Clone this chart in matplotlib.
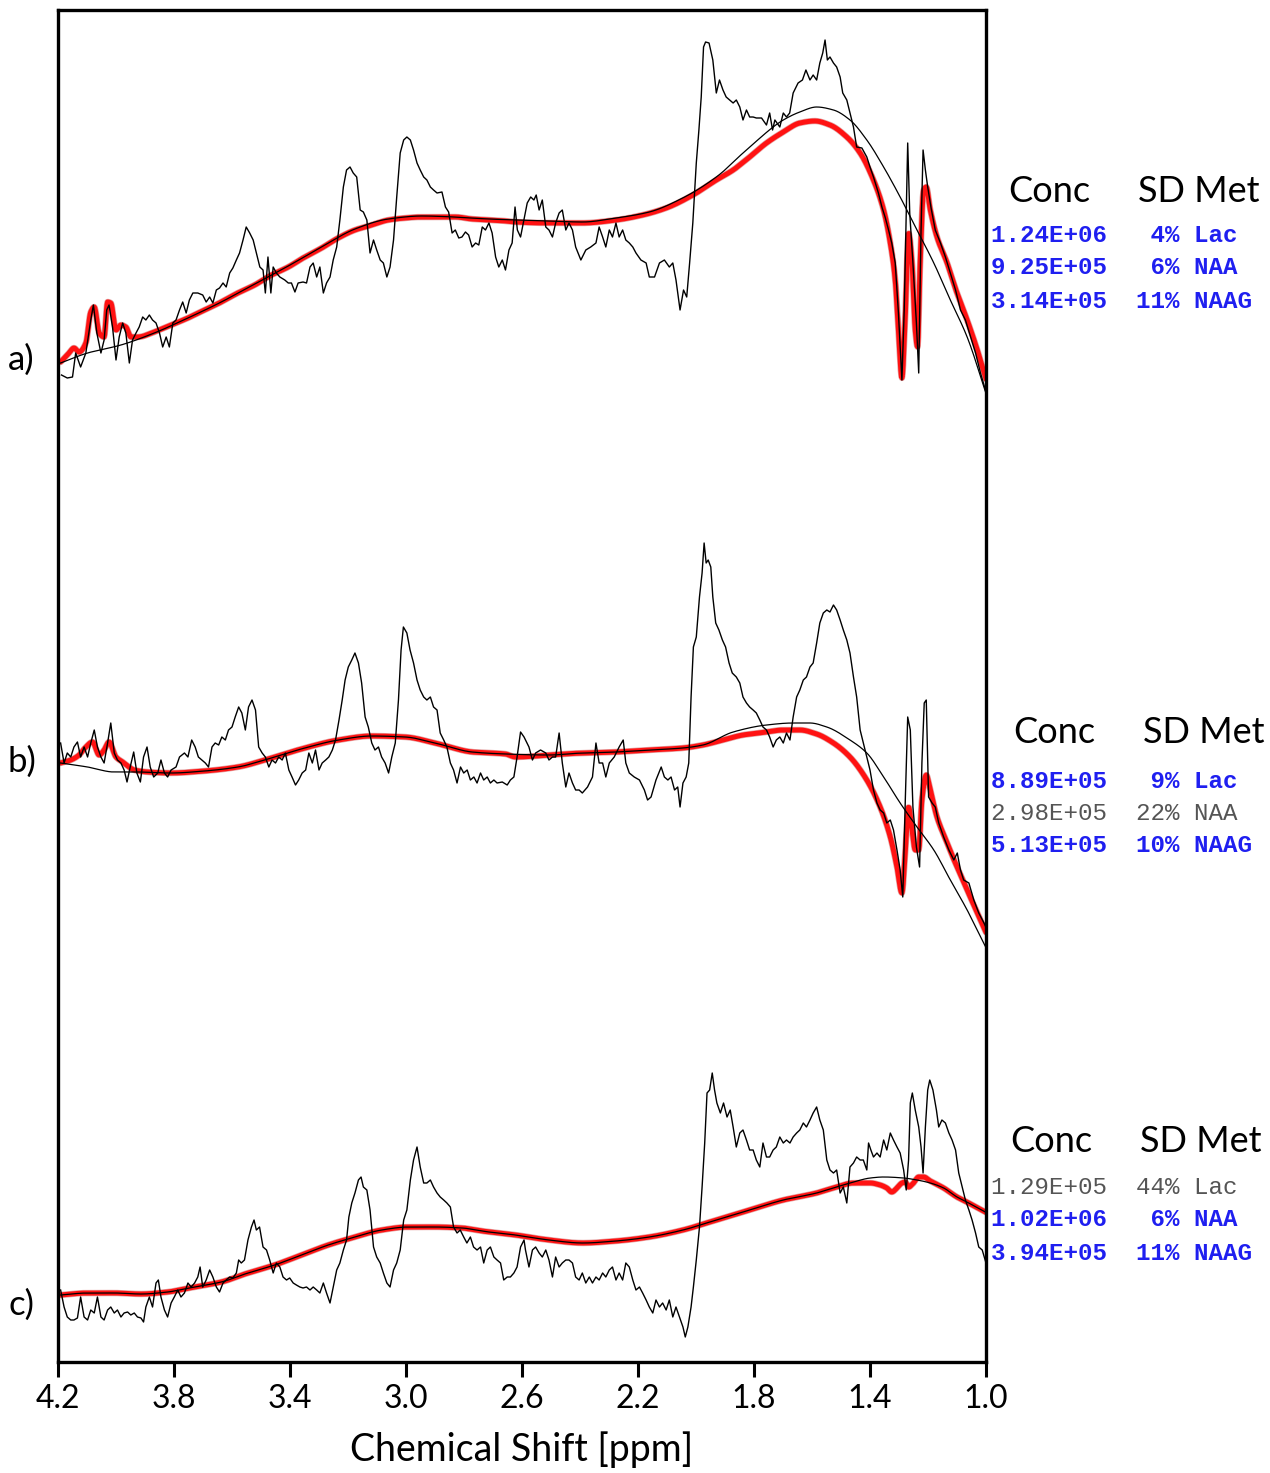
import numpy as np
import matplotlib
matplotlib.use("Agg")
import matplotlib.pyplot as plt

# ---------------------------------------------------------------------------
# Spectrum a)  -- measured signal, LCModel-style fit and fitted baseline
# ---------------------------------------------------------------------------
a_data_ppm = [4.188, 4.168, 4.150, 4.139, 4.122, 4.104, 4.087, 4.078, 4.066, 4.052, 4.041, 4.032, 4.024,
              4.012, 4.000, 3.989, 3.977, 3.966, 3.954, 3.943, 3.931, 3.920, 3.908, 3.897, 3.885, 3.874,
              3.862, 3.850, 3.839, 3.827, 3.816, 3.804, 3.793, 3.781, 3.770, 3.758, 3.747, 3.735, 3.718,
              3.701, 3.689, 3.677, 3.666, 3.654, 3.643, 3.631, 3.620, 3.608, 3.597, 3.585, 3.574, 3.562,
              3.551, 3.539, 3.527, 3.516, 3.504, 3.493, 3.485, 3.476, 3.466, 3.458, 3.447, 3.435, 3.418,
              3.406, 3.395, 3.383, 3.372, 3.355, 3.343, 3.331, 3.320, 3.308, 3.297, 3.285, 3.274, 3.262,
              3.251, 3.239, 3.228, 3.216, 3.205, 3.193, 3.182, 3.170, 3.158, 3.147, 3.135, 3.124, 3.112,
              3.101, 3.089, 3.078, 3.066, 3.055, 3.043, 3.032, 3.020, 3.008, 2.997, 2.985, 2.974, 2.962,
              2.951, 2.939, 2.928, 2.916, 2.905, 2.893, 2.876, 2.864, 2.853, 2.841, 2.830, 2.818, 2.807,
              2.795, 2.784, 2.772, 2.760, 2.749, 2.737, 2.726, 2.714, 2.703, 2.691, 2.680, 2.668, 2.657,
              2.645, 2.634, 2.624, 2.616, 2.605,
              2.582, 2.570, 2.559, 2.551, 2.541, 2.530, 2.518, 2.507, 2.495, 2.484, 2.472, 2.461, 2.449,
              2.438, 2.426, 2.415, 2.397, 2.380, 2.363, 2.345, 2.334, 2.322, 2.311, 2.299, 2.288, 2.276,
              2.265, 2.253, 2.242, 2.230, 2.218, 2.207, 2.190, 2.172, 2.161, 2.143, 2.126, 2.109, 2.092,
              2.080, 2.069, 2.055, 2.043, 2.032, 2.022, 2.011, 1.999, 1.990, 1.982, 1.974, 1.967, 1.955,
              1.942, 1.930, 1.919, 1.907, 1.896, 1.884, 1.872, 1.861, 1.849, 1.838, 1.826, 1.815, 1.803,
              1.792, 1.774, 1.757, 1.746, 1.736, 1.728, 1.711, 1.699, 1.688, 1.677, 1.665, 1.648, 1.633,
              1.621, 1.607, 1.596, 1.584, 1.573, 1.563, 1.555, 1.547, 1.538, 1.526, 1.515, 1.503, 1.494,
              1.480, 1.469, 1.457, 1.446, 1.428, 1.411, 1.400, 1.388, 1.371, 1.359, 1.348, 1.336, 1.325,
              1.313, 1.302, 1.290, 1.282, 1.275, 1.270, 1.263, 1.252, 1.240, 1.232, 1.224, 1.217, 1.209,
              1.201, 1.190, 1.175, 1.157, 1.140, 1.123, 1.105, 1.088, 1.071, 1.053, 1.036, 1.019, 1.002]
a_data_int = [45, 42, 43, 67, 53, 67, 100, 115, 87, 67, 80, 110, 115,
              93, 60, 83, 97, 87, 57, 80, 87, 93, 103, 100, 105, 100,
              97, 87, 73, 83, 73, 97, 100, 110, 118, 107, 120, 127, 127,
              125, 118, 123, 117, 130, 132, 137, 133, 147, 152, 160, 167, 180,
              193, 187, 180, 167, 153, 150, 127, 163, 127, 153, 147, 143, 140,
              137, 137, 128, 137, 138, 137, 153, 157, 143, 153, 127, 137, 143,
              160, 173, 200, 233, 250, 253, 247, 243, 210, 208, 200, 167, 180,
              170, 160, 157, 143, 153, 180, 223, 267, 280, 283, 280, 270, 257,
              250, 243, 240, 233, 230, 227, 228, 213, 208, 187, 190, 182, 183,
              188, 185, 173, 177, 175, 193, 190, 197, 187, 163, 153, 160, 150,
              170, 177, 213, 190, 183,
              217, 223, 220, 225, 210, 220, 193, 190, 183, 197, 207, 210, 190,
              197, 190, 173, 160, 170, 173, 177, 193, 183, 173, 190, 183, 197,
              183, 190, 180, 177, 173, 167, 160, 157, 143, 143, 157, 160, 153,
              157, 140, 110, 130, 123, 157, 197, 257, 290, 323, 373, 378, 377,
              360, 327, 340, 330, 323, 320, 317, 320, 313, 300, 310, 303, 303,
              302, 302, 295, 307, 290, 300, 293, 307, 303, 307, 327, 337, 340,
              350, 340, 345, 340, 357, 367, 380, 360, 363, 357, 353, 343, 327,
              320, 307, 293, 273, 272, 263, 253, 243, 227, 213, 203, 190, 177,
              157, 107, 40, 110, 207, 277, 207, 157, 97, 47, 190, 270, 250,
              233, 213, 190, 177, 163, 147, 130, 110, 100, 83, 67, 47, 30]

a_fit_ppm = [4.191, 4.162, 4.145, 4.127, 4.104, 4.087, 4.075, 4.058, 4.041, 4.029, 4.018, 4.000, 3.983,
             3.966, 3.948, 3.925, 3.868, 3.810, 3.752, 3.695, 3.637, 3.580, 3.522, 3.464, 3.406, 3.349,
             3.291, 3.234, 3.176, 3.118, 3.061, 3.003, 2.945, 2.888, 2.830, 2.772, 2.715, 2.657,
             2.622, 2.507, 2.391, 2.276, 2.184, 2.103, 2.011, 1.930, 1.872, 1.815, 1.757, 1.699, 1.642,
             1.590, 1.538, 1.480, 1.434, 1.388, 1.353, 1.330, 1.313, 1.302, 1.290, 1.278, 1.267, 1.255,
             1.244, 1.236, 1.227, 1.215, 1.206, 1.192, 1.169, 1.134, 1.100, 1.065, 1.030, 0.996]
a_fit_int = [58, 67, 72, 68, 77, 108, 113, 87, 83, 118, 117, 90, 95,
             93, 83, 83, 88, 95, 102, 110, 118, 127, 135, 145, 153, 163,
             172, 182, 190, 195, 200, 202, 203, 203, 203, 201, 200, 199,
             198, 197, 197, 200, 205, 212, 225, 240, 250, 263, 277, 288, 297,
             299, 295, 283, 267, 240, 210, 177, 140, 90, 42, 107, 187, 157,
             90, 73, 157, 230, 233, 210, 183, 157, 127, 100, 70, 37]

a_base_ppm = [4.191, 4.098, 3.983, 3.868, 3.752, 3.637, 3.522, 3.406, 3.291, 3.176, 3.061, 2.945, 2.830,
              2.715, 2.507, 2.391, 2.276, 2.161, 2.046, 1.930, 1.815, 1.699, 1.642, 1.584, 1.526, 1.469,
              1.411, 1.353, 1.296, 1.238, 1.180, 1.123, 1.065, 0.996]
a_base_int = [57, 67, 75, 87, 102, 118, 136, 154, 173, 191, 201, 204, 203,
              201, 199, 198, 202, 208, 222, 243, 273, 300, 308, 313, 310, 300,
              280, 253, 223, 190, 157, 120, 83, 23]

# ---------------------------------------------------------------------------
# Spectrum b)
# ---------------------------------------------------------------------------
b_data_ppm = [4.191, 4.179, 4.168, 4.156, 4.145, 4.133, 4.122, 4.110, 4.098, 4.087, 4.075, 4.064, 4.052,
              4.041, 4.029, 4.018, 4.006, 3.995, 3.983, 3.972, 3.962, 3.951, 3.939, 3.928, 3.916, 3.905,
              3.893, 3.882, 3.870, 3.856, 3.845, 3.833, 3.822, 3.810, 3.793, 3.781, 3.764, 3.752, 3.739,
              3.727, 3.716, 3.704, 3.692, 3.681, 3.669, 3.658, 3.646, 3.635, 3.623, 3.612, 3.600, 3.589,
              3.577, 3.566, 3.554, 3.543, 3.531, 3.519, 3.508, 3.496, 3.485, 3.473, 3.462, 3.450, 3.439,
              3.427, 3.416, 3.404, 3.393, 3.381, 3.370, 3.358, 3.346, 3.335, 3.323, 3.312, 3.300, 3.289,
              3.277, 3.266, 3.254, 3.243, 3.231, 3.220, 3.210, 3.199, 3.187, 3.176, 3.164, 3.153, 3.141,
              3.130, 3.118, 3.107, 3.095, 3.084, 3.072, 3.060, 3.049, 3.037, 3.026, 3.017, 3.009, 2.997,
              2.986, 2.974, 2.962, 2.951, 2.939, 2.928, 2.916, 2.905, 2.893, 2.882, 2.870, 2.859, 2.847,
              2.836, 2.824, 2.812, 2.801, 2.789, 2.778, 2.766, 2.755, 2.743, 2.732, 2.720, 2.709, 2.697,
              2.686, 2.668, 2.651, 2.640, 2.628, 2.617, 2.605, 2.593,
              2.576, 2.564, 2.553, 2.536, 2.518, 2.507, 2.495, 2.484, 2.472, 2.461, 2.449, 2.438, 2.426,
              2.415, 2.403, 2.392, 2.374, 2.357, 2.345, 2.334, 2.322, 2.311, 2.299, 2.282, 2.265, 2.251,
              2.242, 2.230, 2.213, 2.195, 2.178, 2.167, 2.155, 2.138, 2.120, 2.109, 2.097, 2.086, 2.074,
              2.063, 2.055, 2.045, 2.034, 2.025, 2.017, 2.009, 1.999, 1.988, 1.979, 1.972, 1.965, 1.958,
              1.949, 1.942, 1.932, 1.921, 1.909, 1.898, 1.886, 1.875, 1.861, 1.849, 1.838, 1.826, 1.815,
              1.803, 1.792, 1.780, 1.769, 1.757, 1.746, 1.734, 1.723, 1.711, 1.699, 1.688, 1.676, 1.665,
              1.653, 1.642, 1.630, 1.619, 1.607, 1.596, 1.584, 1.573, 1.561, 1.549, 1.538, 1.526, 1.515,
              1.503, 1.492, 1.480, 1.469, 1.457, 1.446, 1.434, 1.423, 1.411, 1.400, 1.388, 1.376, 1.365,
              1.353, 1.342, 1.330, 1.319, 1.307, 1.296, 1.287, 1.278, 1.270, 1.261, 1.252, 1.240, 1.229,
              1.221, 1.213, 1.206, 1.198, 1.186, 1.175, 1.163, 1.146, 1.128, 1.111, 1.099, 1.088, 1.077,
              1.059, 1.042, 1.025, 1.007, 0.996]
b_data_int = [217, 197, 207, 203, 213, 218, 203, 213, 203, 217, 230, 213, 203,
              197, 217, 237, 207, 200, 197, 190, 178, 193, 208, 187, 178, 203,
              213, 193, 183, 187, 200, 187, 183, 190, 193, 203, 207, 203, 220,
              213, 203, 200, 197, 193, 213, 217, 215, 223, 220, 230, 233, 243,
              253, 247, 230, 253, 260, 250, 213, 207, 203, 193, 200, 197, 203,
              200, 207, 190, 183, 175, 180, 187, 190, 207, 197, 210, 190, 197,
              200, 203, 210, 220, 240, 260, 280, 293, 300, 307, 297, 277, 243,
              233, 217, 210, 213, 203, 197, 187, 203, 217, 260, 310, 333, 327,
              310, 297, 280, 270, 263, 260, 263, 253, 250, 227, 220, 213, 197,
              190, 177, 193, 187, 190, 180, 183, 177, 187, 180, 183, 177, 180,
              177, 178, 175, 180, 183, 203, 228, 223,
              213, 200, 207, 210, 207, 200, 203, 203, 227, 197, 173, 187, 177,
              170, 170, 167, 173, 183, 217, 197, 197, 183, 197, 203, 213, 220,
              197, 187, 183, 180, 170, 160, 163, 180, 193, 183, 180, 183, 170,
              173, 153, 177, 183, 197, 263, 313, 323, 363, 387, 417, 397, 400,
              393, 363, 337, 330, 320, 313, 297, 287, 283, 277, 263, 257, 253,
              250, 247, 240, 233, 230, 223, 213, 220, 223, 217, 227, 220, 243,
              263, 270, 280, 283, 293, 297, 317, 337, 347, 350, 348, 355, 350,
              340, 330, 320, 307, 283, 263, 230, 217, 203, 190, 170, 157, 150,
              147, 137, 140, 130, 110, 90, 63, 163, 243, 230, 153, 113, 93,
              197, 257, 260, 163, 157, 153, 137, 123, 110, 100, 107, 90, 80,
              77, 60, 47, 37, 30]

b_fit_ppm = [4.191, 4.156, 4.127, 4.104, 4.081, 4.058, 4.041, 4.024, 4.000, 3.972, 3.937, 3.891, 3.810,
             3.695, 3.580, 3.464, 3.349, 3.233, 3.118, 3.003, 2.887, 2.772, 2.657,
             2.622, 2.507, 2.392, 2.276, 2.161, 2.045, 1.976, 1.907, 1.838, 1.757, 1.699, 1.642, 1.584,
             1.526, 1.469, 1.411, 1.365, 1.330, 1.307, 1.290, 1.278, 1.267, 1.255, 1.244, 1.232, 1.221,
             1.206, 1.192, 1.169, 1.134, 1.100, 1.065, 1.030, 0.996]
b_fit_int = [197, 200, 205, 213, 218, 205, 210, 218, 203, 197, 190, 188, 187,
             189, 193, 202, 212, 220, 224, 223, 216, 208, 206,
             203, 205, 207, 208, 210, 212, 215, 220, 225, 228, 230, 230, 226,
             217, 203, 180, 153, 123, 93, 67, 110, 153, 130, 110, 110, 160,
             185, 170, 143, 117, 93, 70, 47, 25]

b_base_ppm = [4.191, 4.098, 4.006, 3.925, 3.810, 3.695, 3.580, 3.464, 3.349, 3.233, 3.118, 3.003, 2.887,
              2.772, 2.657, 2.507, 2.392, 2.276, 2.161, 2.045, 1.976, 1.872, 1.757, 1.665, 1.607, 1.549,
              1.469, 1.411, 1.353, 1.296, 1.238, 1.180, 1.123, 1.065, 0.996]
b_base_int = [197, 193, 188, 188, 187, 189, 193, 202, 212, 220, 224, 223, 216,
              208, 206, 205, 207, 208, 210, 212, 215, 228, 235, 237, 237, 233,
              220, 207, 183, 157, 133, 110, 80, 50, 10]

# ---------------------------------------------------------------------------
# Spectrum c)
# ---------------------------------------------------------------------------
c_data_ppm = [4.191, 4.179, 4.168, 4.156, 4.145, 4.133, 4.122, 4.110, 4.098, 4.087, 4.075, 4.064, 4.052,
              4.041, 4.029, 4.018, 4.006, 3.995, 3.983, 3.972, 3.960, 3.949, 3.937, 3.926, 3.914, 3.905,
              3.897, 3.885, 3.874, 3.862, 3.854, 3.845, 3.833, 3.822, 3.810, 3.799, 3.787, 3.776, 3.764,
              3.752, 3.741, 3.729, 3.718, 3.710, 3.701, 3.689, 3.677, 3.666, 3.654, 3.643, 3.631, 3.620,
              3.608, 3.597, 3.585, 3.577, 3.568, 3.557, 3.545, 3.533, 3.524, 3.516, 3.505, 3.493, 3.481,
              3.470, 3.458, 3.447, 3.435, 3.424, 3.412, 3.401, 3.389, 3.378, 3.366, 3.355, 3.343, 3.331,
              3.320, 3.308, 3.297, 3.285, 3.274, 3.262, 3.251, 3.239, 3.228, 3.216, 3.205, 3.197, 3.187,
              3.176, 3.164, 3.155, 3.147, 3.135, 3.124, 3.112, 3.101, 3.089, 3.078, 3.066, 3.055, 3.043,
              3.032, 3.020, 3.008, 2.997, 2.985, 2.974, 2.962, 2.951, 2.939, 2.928, 2.916, 2.905, 2.893,
              2.882, 2.870, 2.859, 2.847, 2.836, 2.824, 2.813, 2.801, 2.790, 2.778, 2.767, 2.755, 2.743,
              2.732, 2.720, 2.709, 2.697, 2.686, 2.674, 2.663, 2.651, 2.640, 2.628, 2.617, 2.605, 2.593,
              2.588, 2.576, 2.564, 2.553, 2.541, 2.530, 2.518, 2.507, 2.495, 2.484, 2.472, 2.461, 2.449,
              2.438, 2.426, 2.415, 2.403, 2.392, 2.380, 2.368, 2.357, 2.345, 2.334, 2.322, 2.311, 2.299,
              2.288, 2.276, 2.265, 2.253, 2.242, 2.230, 2.218, 2.207, 2.195, 2.184, 2.172, 2.161, 2.149,
              2.138, 2.126, 2.115, 2.103, 2.092, 2.080, 2.069, 2.057, 2.045, 2.037, 2.028, 2.017, 2.009,
              1.999, 1.988, 1.979, 1.970, 1.962, 1.953, 1.944, 1.936, 1.928, 1.916, 1.905, 1.893, 1.882,
              1.872, 1.861, 1.849, 1.838, 1.826, 1.815, 1.803, 1.792, 1.780, 1.769, 1.757, 1.746, 1.734,
              1.723, 1.711, 1.699, 1.688, 1.676, 1.665, 1.653, 1.642, 1.630, 1.619, 1.607, 1.596, 1.584,
              1.573, 1.561, 1.549, 1.538, 1.526, 1.515, 1.503, 1.492, 1.480, 1.469, 1.457, 1.446, 1.434,
              1.423, 1.411, 1.405, 1.397, 1.388, 1.376, 1.365, 1.353, 1.342, 1.330, 1.319, 1.307, 1.296,
              1.284, 1.275, 1.267, 1.261, 1.254, 1.244, 1.232, 1.224, 1.217, 1.209, 1.201, 1.194, 1.183,
              1.171, 1.163, 1.152, 1.140, 1.128, 1.117, 1.105, 1.094, 1.082, 1.071, 1.059, 1.048, 1.036,
              1.025, 1.013, 0.996]
c_data_int = [60, 43, 33, 30, 30, 32, 53, 33, 30, 40, 37, 53, 33,
              30, 40, 43, 37, 40, 33, 37, 38, 35, 37, 33, 32, 28,
              43, 53, 43, 67, 70, 53, 40, 33, 47, 53, 60, 53, 57,
              67, 63, 67, 73, 83, 63, 70, 80, 73, 63, 58, 67, 70,
              73, 72, 77, 90, 87, 90, 110, 123, 130, 120, 123, 103, 100,
              90, 77, 87, 83, 73, 70, 72, 67, 65, 63, 62, 63, 60,
              63, 60, 57, 67, 57, 47, 63, 80, 87, 100, 110, 133, 147,
              157, 170, 173, 163, 160, 140, 103, 93, 87, 77, 67, 63, 80,
              87, 100, 130, 140, 170, 190, 203, 183, 167, 167, 170, 163, 157,
              153, 150, 147, 143, 123, 117, 120, 113, 107, 113, 103, 100, 103,
              87, 100, 103, 93, 90, 87, 70, 73, 73, 77, 83, 103, 110,
              100, 83, 100, 103, 97, 93, 100, 90, 73, 93, 83, 87, 90,
              90, 87, 73, 70, 77, 67, 73, 67, 73, 70, 77, 73, 80,
              83, 70, 77, 70, 87, 83, 70, 60, 63, 57, 50, 43, 37,
              50, 43, 47, 40, 50, 33, 43, 33, 23, 13, 23, 43, 63,
              90, 123, 163, 207, 257, 260, 277, 260, 247, 237, 247, 233, 240,
              223, 203, 217, 220, 210, 200, 200, 190, 183, 207, 193, 193, 200,
              203, 213, 207, 210, 207, 213, 217, 220, 227, 223, 230, 237, 243,
              230, 220, 190, 180, 177, 180, 157, 163, 147, 183, 187, 193, 190,
              190, 180, 207, 200, 193, 197, 193, 210, 200, 217, 210, 203, 197,
              180, 160, 190, 247, 257, 240, 223, 203, 177, 223, 260, 270, 260,
              240, 223, 230, 227, 217, 210, 200, 177, 163, 150, 140, 130, 117,
              103, 100, 83]

c_fit_ppm = [4.191, 4.098, 4.006, 3.914, 3.822, 3.729, 3.637, 3.545, 3.453, 3.360, 3.268, 3.176, 3.084,
             2.991, 2.899, 2.807, 2.714, 2.622, 2.507, 2.391, 2.276, 2.161, 2.045, 1.930, 1.815, 1.699,
             1.584, 1.515, 1.457, 1.399, 1.365, 1.342, 1.325, 1.307, 1.290, 1.278, 1.267, 1.250, 1.232,
             1.215, 1.192, 1.146, 1.100, 1.053, 0.996]
c_fit_int = [55, 57, 57, 56, 58, 63, 68, 77, 85, 95, 105, 113, 120,
             123, 123, 122, 118, 115, 110, 107, 109, 113, 120, 130, 140, 150,
             157, 163, 167, 167, 165, 162, 158, 162, 167, 168, 163, 167, 173,
             173, 169, 162, 153, 146, 137]

c_base_ppm = [4.191, 4.098, 4.006, 3.914, 3.822, 3.729, 3.637, 3.545, 3.453, 3.360, 3.268, 3.176, 3.084,
              2.991, 2.899, 2.807, 2.714, 2.622, 2.507, 2.391, 2.276, 2.161, 2.045, 1.930, 1.815, 1.699,
              1.584, 1.515, 1.457, 1.399, 1.353, 1.284, 1.238, 1.192, 1.146, 1.100, 1.053, 0.996]
c_base_int = [55, 57, 57, 56, 58, 63, 68, 77, 85, 95, 105, 113, 120,
              123, 123, 122, 118, 115, 110, 107, 109, 113, 120, 130, 140, 150,
              157, 163, 168, 172, 173, 172, 170, 167, 162, 153, 146, 137]

# Vertical offsets of the three stacked spectra (arbitrary intensity units)
offsets = {"a": 942, "b": 402, "c": 12}

# ---------------------------------------------------------------------------
# Quantification tables shown beside each spectrum
# ---------------------------------------------------------------------------
metabolites = ["Lac", "NAA", "NAAG"]
a_conc = ["1.24E+06", "9.25E+05", "3.14E+05"]
a_sd = [4, 6, 11]
b_conc = ["8.89E+05", "2.98E+05", "5.13E+05"]
b_sd = [9, 22, 10]
c_conc = ["1.29E+05", "1.02E+06", "3.94E+05"]
c_sd = [44, 6, 11]

panel_labels = ["a)", "b)", "c)"]
xticks = [4.2, 3.8, 3.4, 3.0, 2.6, 2.2, 1.8, 1.4, 1.0]
xlabel = "Chemical Shift [ppm]"


def pchip(x, y, xn):
    """Shape-preserving piecewise cubic Hermite interpolation (x increasing)."""
    x = np.asarray(x, float)
    y = np.asarray(y, float)
    h = np.diff(x)
    delta = np.diff(y) / h
    n = len(x)
    d = np.zeros(n)
    for k in range(1, n - 1):
        if delta[k - 1] * delta[k] > 0:
            w1 = 2 * h[k] + h[k - 1]
            w2 = h[k] + 2 * h[k - 1]
            d[k] = (w1 + w2) / (w1 / delta[k - 1] + w2 / delta[k])
    d[0] = delta[0]
    d[-1] = delta[-1]
    idx = np.clip(np.searchsorted(x, xn) - 1, 0, n - 2)
    t = (xn - x[idx]) / h[idx]
    h00 = 2 * t**3 - 3 * t**2 + 1
    h10 = t**3 - 2 * t**2 + t
    h01 = -2 * t**3 + 3 * t**2
    h11 = t**3 - t**2
    return (h00 * y[idx] + h10 * h[idx] * d[idx] + h01 * y[idx + 1]
            + h11 * h[idx] * d[idx + 1])


def smooth_curve(ppm, val):
    p = np.asarray(ppm, float)[::-1]
    v = np.asarray(val, float)[::-1]
    grid = np.linspace(p[0], p[-1], 1600)
    return grid, pchip(p, v, grid)


# ---------------------------------------------------------------------------
W, H = 1270, 1473
fig = plt.figure(figsize=(W / 100, H / 100), dpi=100)
fig.patch.set_facecolor("white")

ax_left, ax_right, ax_top, ax_bottom = 58, 986, 10, 1362
ax = fig.add_axes([ax_left / W, 1 - ax_bottom / H, (ax_right - ax_left) / W, (ax_bottom - ax_top) / H])

RED = "#ff1212"
spectra = [
    ("a", a_data_ppm, a_data_int, a_fit_ppm, a_fit_int, a_base_ppm, a_base_int),
    ("b", b_data_ppm, b_data_int, b_fit_ppm, b_fit_int, b_base_ppm, b_base_int),
    ("c", c_data_ppm, c_data_int, c_fit_ppm, c_fit_int, c_base_ppm, c_base_int),
]
for key, dp, di, fp, fi, bp, bi in spectra:
    off = offsets[key]
    gx, gy = smooth_curve(fp, fi)
    ax.plot(gx, gy + off, color="#b00000", lw=4.6, alpha=0.35, solid_capstyle="round", zorder=2)
    ax.plot(gx, gy + off, color=RED, lw=3.6, solid_capstyle="round",
            solid_joinstyle="round", zorder=2)
    bx, by = smooth_curve(bp, bi)
    ax.plot(bx, by + off, color="black", lw=0.9, zorder=3)
    ax.plot(dp, np.asarray(di) + off, color="black", lw=1.0, zorder=4)

ax.set_xlim(4.2, 1.0)
ax.set_ylim(0, ax_bottom - ax_top)
ax.set_yticks([])
ax.set_xticks(xticks)
ax.set_xticklabels([f"{t:.1f}" for t in xticks])
for s in ax.spines.values():
    s.set_linewidth(2.4)
ax.tick_params(axis="x", direction="out", length=11, width=2.2, pad=5,
               labelsize=23)
for lab in ax.get_xticklabels():
    lab.set_fontfamily("Lato")
ax.set_xlabel(xlabel, fontsize=27, fontfamily="Lato", labelpad=12)


def px(x, y):
    return x / W, 1 - y / H


# panel letters
for lab, y in zip(panel_labels, [360, 762, 1305]):
    fig.text(*px(8, y), lab, fontsize=25, fontfamily="Lato", va="center", ha="left")

# tables
BLUE = "#1f1ff0"
GREY = "#555555"
tables = [
    (a_conc, a_sd, 1008, 192, [236, 268, 301]),
    (b_conc, b_sd, 1013, 733, [781, 813, 846]),
    (c_conc, c_sd, 1010, 1141, [1188, 1220, 1253]),
]
for conc, sd, hx, hy, rows in tables:
    fig.text(*px(hx, hy), "Conc", fontsize=26, fontfamily="Lato", va="center", ha="left")
    fig.text(*px(hx + 130, hy), "SD Met", fontsize=26, fontfamily="Lato", va="center", ha="left")
    for c, s, m, ry in zip(conc, sd, metabolites, rows):
        good = s < 20
        line = f"{c}  {str(s) + '%':>3s} {m}"
        fig.text(*px(991, ry), line, fontsize=17.4, fontfamily="Liberation Mono",
                 fontweight="bold" if good else "normal",
                 color=BLUE if good else GREY, va="center", ha="left")

fig.savefig("out.png", dpi=100, facecolor="white")
